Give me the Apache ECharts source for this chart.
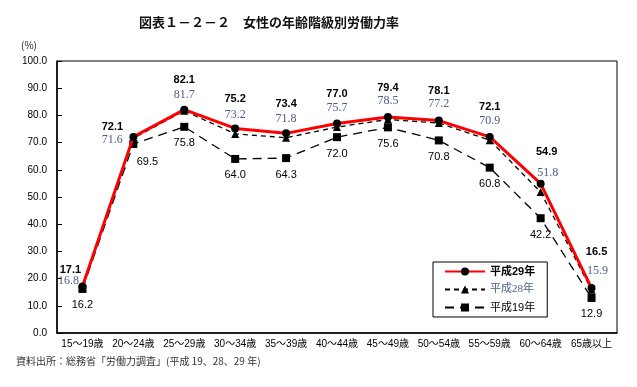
<!DOCTYPE html>
<html><head><meta charset="utf-8">
<script src="https://cdn.jsdelivr.net/npm/echarts@6/dist/echarts.min.js"></script>
<style>html,body{margin:0;padding:0;background:#fff}#c{width:637px;height:387px}</style>
</head><body><div id="c"></div>
<script>
var categories = ['15～19歳','20～24歳','25～29歳','30～34歳','35～39歳','40～44歳','45～49歳','50～54歳','55～59歳','60～64歳','65歳以上'];
var h29 = [17.1, 72.1, 82.1, 75.2, 73.4, 77.0, 79.4, 78.1, 72.1, 54.9, 16.5];
var h28 = [16.8, 71.6, 81.7, 73.2, 71.8, 75.7, 78.5, 77.2, 70.9, 51.8, 15.9];
var h19 = [16.2, 69.5, 75.8, 64.0, 64.3, 72.0, 75.6, 70.8, 60.8, 42.2, 12.9];
var yTicks = [0,10,20,30,40,50,60,70,80,90,100];
var names = ['平成29年','平成28年','平成19年'];

var sansCJK = '"Liberation Sans","Noto Sans CJK JP",sans-serif';
var lblBlue = '#4d5c86';

// label offsets (style only) per index
var off29 = {0:[-12,13], 1:[-21,20], 9:[6,-2], 10:[5,-7]};
var off28 = {0:[-14,13], 1:[-21,21], 2:[0,3], 9:[7,0], 10:[6,0]};
var off19 = {1:[14,2]};

function mk(vals, offs){
  return vals.map(function(v,i){
    var d = {value:v};
    if (offs[i]) d.label = {offset: offs[i]};
    return d;
  });
}

var chart = echarts.init(document.getElementById('c'), null, {renderer:'canvas'});
chart.setOption({
  animation:false,
  title:{text:'図表１－２－２　女性の年齢階級別労働力率', left:264, textAlign:'center', top:11,
    textStyle:{fontFamily:'"Noto Sans CJK JP",sans-serif', fontSize:13, fontWeight:'bold', color:'#111'}},
  graphic:[
    {type:'text', left:21, top:40, style:{text:'(%)', font:'10px "Noto Sans CJK JP",sans-serif', fill:'#222'}},
    {type:'text', left:16, top:356, style:{text:'資料出所：総務省「労働力調査」(平成 19、28、29 年)', font:'10px "Noto Sans CJK JP",sans-serif', fill:'#333'}}
  ],
  grid:{left:57, right:20, top:61, bottom:54, show:true, borderColor:'#000', borderWidth:1},
  legend:{
    orient:'vertical', left:433, top:262, itemWidth:40, itemHeight:10, itemGap:7,
    padding:[4,12,4,11], borderColor:'#000', borderWidth:1, backgroundColor:'#fff',
    data:[
      {name:names[0], textStyle:{fontWeight:'bold', color:'#000', fontFamily:sansCJK}},
      {name:names[1], textStyle:{color:lblBlue, fontFamily:'"Liberation Serif","Noto Sans CJK JP",serif'}},
      {name:names[2], textStyle:{color:'#000', fontFamily:sansCJK}}
    ],
    textStyle:{fontSize:11}
  },
  xAxis:{type:'category', data:categories, boundaryGap:true,
    axisLine:{lineStyle:{color:'#000', width:1.5}},
    axisTick:{inside:true, length:5, lineStyle:{color:'#000'}},
    axisLabel:{fontSize:10, color:'#000', margin:6, interval:0, fontFamily:sansCJK}},
  yAxis:{type:'value', min:0, max:100, interval:10,
    axisLine:{show:true, lineStyle:{color:'#000', width:1.5}},
    axisTick:{show:true, inside:true, length:5, lineStyle:{color:'#000'}},
    splitLine:{show:false},
    axisLabel:{fontSize:10, color:'#000', margin:10, fontFamily:sansCJK,
      formatter:function(v){return yTicks.indexOf(v)>=0 ? v.toFixed(1) : '';}}},
  series:[
    {name:names[2], type:'line', data:mk(h19, off19), z:2,
     symbol:'rect', symbolSize:8, itemStyle:{color:'#000'},
     lineStyle:{color:'#000', width:1.3, type:[9,6]},
     label:{show:true, position:'bottom', distance:7, fontSize:11, color:'#000', fontFamily:sansCJK,
       formatter:function(p){return p.value.toFixed(1);}}},
    {name:names[1], type:'line', data:mk(h28, off28), z:3,
     symbol:'triangle', symbolSize:8, itemStyle:{color:'#000'},
     lineStyle:{color:'#000', width:1.3, type:[5,4]},
     label:{show:true, position:'top', distance:9, fontSize:12, color:lblBlue, fontFamily:'"Liberation Serif",serif',
       formatter:function(p){return p.value.toFixed(1);}}},
    {name:names[0], type:'line', data:mk(h29, off29), z:4,
     symbol:'circle', symbolSize:8, itemStyle:{color:'#000'},
     lineStyle:{color:'#ff0000', width:3},
     label:{show:true, position:'top', distance:20, fontSize:11, fontWeight:'bold', color:'#000', fontFamily:sansCJK,
       formatter:function(p){return p.value.toFixed(1);}}}
  ]
});
</script></body></html>
